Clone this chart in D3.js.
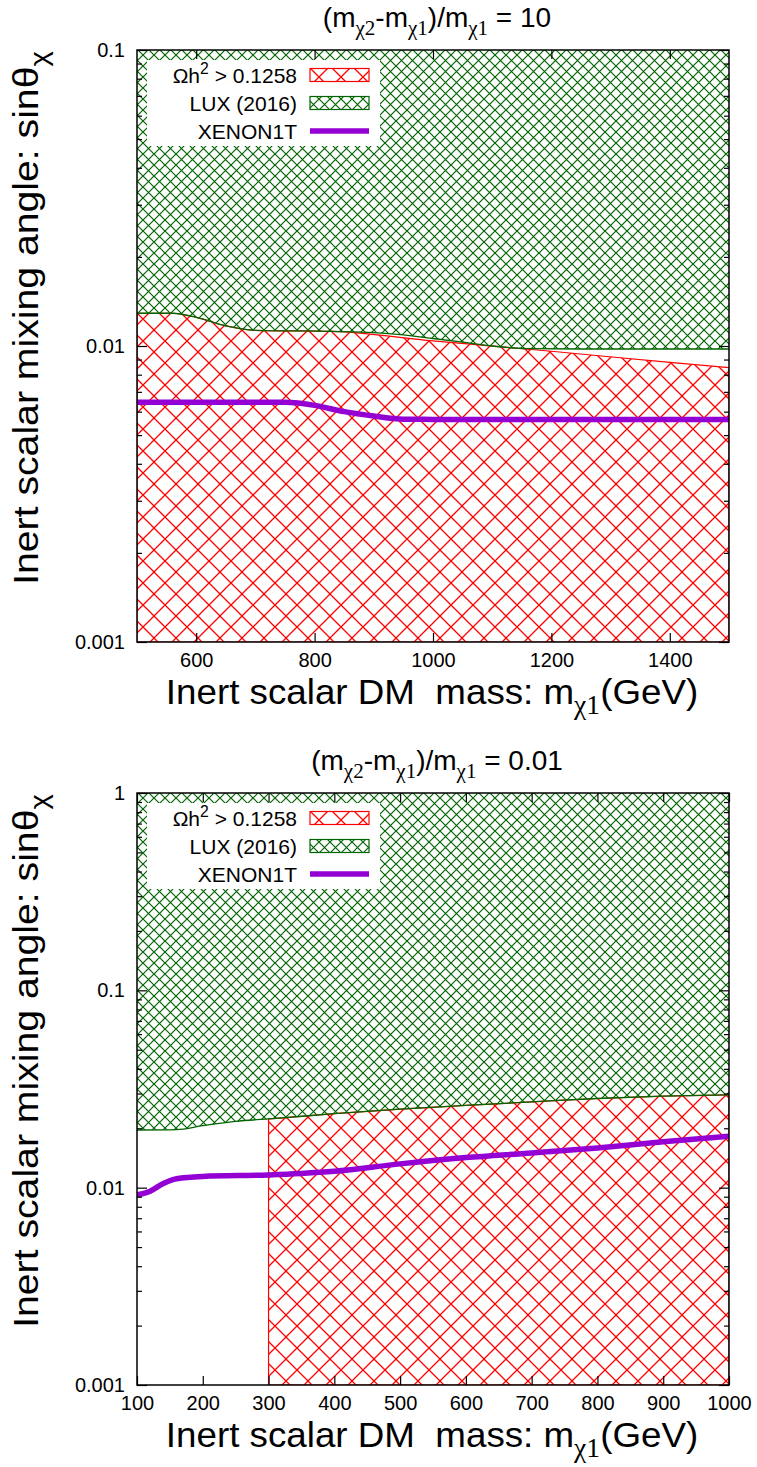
<!DOCTYPE html>
<html>
<head>
<meta charset="utf-8">
<script src="https://cdn.jsdelivr.net/npm/d3@7"></script>
<style>
  body { margin: 0; background: #fff; }
  text { font-family: "Liberation Sans", Arial, sans-serif; fill: #000; }
</style>
</head>
<body>
<div class="chart"></div>
<script>
// ---- data ----
// top panel: (m_chi2 - m_chi1)/m_chi1 = 10
const topXTicks = [600, 800, 1000, 1200, 1400];
const topYTicks = [0.1, 0.01, 0.001];
const topLuxMass = [500, 560, 600, 650, 700, 830, 900, 950, 1000, 1050, 1100, 1160, 1250, 1500];
const topLuxVal = [0.0129, 0.0129, 0.0125, 0.0117, 0.0113, 0.0112, 0.0111, 0.0109, 0.0106, 0.0103, 0.0100, 0.0098, 0.00977, 0.00977];
const topRelicMass = [500, 560, 600, 650, 700, 830, 1000, 1200, 1400, 1500];
const topRelicVal = [0.0129, 0.0129, 0.0125, 0.0117, 0.0113, 0.0112, 0.0104, 0.0096, 0.0088, 0.00845];
const topXenonMass = [500, 600, 700, 750, 800, 850, 900, 950, 1000, 1100, 1200, 1300, 1400, 1500];
const topXenonVal = [0.00646, 0.00646, 0.00646, 0.00645, 0.0063, 0.0060, 0.0058, 0.00566, 0.00565, 0.00565, 0.00565, 0.00565, 0.00565, 0.00565];

// bottom panel: (m_chi2 - m_chi1)/m_chi1 = 0.01
const botXTicks = [100, 200, 300, 400, 500, 600, 700, 800, 900, 1000];
const botYTicks = [1, 0.1, 0.01, 0.001];
const botLuxMass = [100, 160, 200, 250, 300, 400, 500, 600, 700, 800, 900, 1000];
const botLuxVal = [0.0196, 0.0197, 0.0206, 0.0217, 0.0223, 0.0237, 0.0250, 0.0261, 0.0272, 0.0283, 0.0291, 0.0295];
const botRelicMass = [300, 400, 500, 600, 700, 800, 900, 1000];
const botRelicVal = [0.0223, 0.0237, 0.0250, 0.0261, 0.0272, 0.0283, 0.0291, 0.0295];
const botXenonMass = [100, 120, 140, 160, 200, 300, 350, 400, 500, 600, 700, 800, 900, 1000];
const botXenonVal = [0.0092, 0.0096, 0.0105, 0.0111, 0.0114, 0.0116, 0.0118, 0.0121, 0.0132, 0.0142, 0.0150, 0.0159, 0.0171, 0.0182];

const legendLabels = ["relic", "lux", "xenon"];

// ---- layout ----
const width = 757, height = 1467;
const plot = {left: 137, right: 729, top: 50, bottom: 642};
const tickFont = 20, titleFont = 28, axisFont = 35, legendFont = 21;

const svg = d3.select(".chart").append("svg")
    .attr("width", width)
    .attr("height", height);

const defs = svg.append("defs");

// crossed hatch fill like gnuplot's fillstyle pattern
function hatch(id, size, color, sw) {
    const p = defs.append("pattern")
        .attr("id", id)
        .attr("patternUnits", "userSpaceOnUse")
        .attr("width", size)
        .attr("height", size);
    p.append("path")
        .attr("d", `M0,0L${size},${size}M${size},0L0,${size}`)
        .attr("stroke", color)
        .attr("stroke-width", sw)
        .attr("fill", "none");
}
hatch("hatchRed", 22, "#ff0000", 1.3);
hatch("hatchGreen", 11, "#006400", 1.2);

// text with sub/superscripts: parts = [[string, kind]], kind: "", "sub", "subs" (serif sub), "sup"
function richText(sel, parts, size) {
    let shift = 0;
    parts.forEach(([str, kind]) => {
        const target = kind === "sup" ? -size * 0.4 : (kind ? size * 0.28 : 0);
        const ts = sel.append("tspan").text(str).attr("dy", target - shift);
        shift = target;
        if (kind) ts.attr("font-size", size * 0.75);
        if (kind === "subs") ts.style("font-family", "'Liberation Serif', 'Times New Roman', serif");
    });
}

function drawPanel(shift, cfg) {
    const g = svg.append("g").attr("transform", `translate(0,${shift})`);

    const x = d3.scaleLinear().domain(cfg.xDomain).range([plot.left, plot.right]);
    const y = d3.scaleLog().domain(cfg.yDomain).range([plot.bottom, plot.top]);

    const clipId = "clip" + shift;
    g.append("clipPath").attr("id", clipId)
        .append("rect")
        .attr("x", plot.left).attr("y", plot.top)
        .attr("width", plot.right - plot.left)
        .attr("height", plot.bottom - plot.top);

    const body = g.append("g").attr("clip-path", `url(#${clipId})`);

    // relic density excluded region (below the curve)
    const relic = d3.zip(cfg.relicMass, cfg.relicVal);
    body.append("path")
        .datum(relic)
        .attr("d", d3.area()
            .x(d => x(d[0]))
            .y0(plot.bottom)
            .y1(d => y(d[1]))
            .curve(d3.curveMonotoneX))
        .attr("fill", "url(#hatchRed)")
        .attr("stroke", "#ff0000")
        .attr("stroke-width", 1.2);

    // LUX excluded region (above the curve)
    const lux = d3.zip(cfg.luxMass, cfg.luxVal);
    body.append("path")
        .datum(lux)
        .attr("d", d3.area()
            .x(d => x(d[0]))
            .y0(plot.top)
            .y1(d => y(d[1]))
            .curve(d3.curveMonotoneX))
        .attr("fill", "url(#hatchGreen)");
    body.append("path")
        .datum(lux)
        .attr("d", d3.line()
            .x(d => x(d[0]))
            .y(d => y(d[1]))
            .curve(d3.curveMonotoneX))
        .attr("fill", "none")
        .attr("stroke", "#006400")
        .attr("stroke-width", 1.3);

    // XENON1T line
    const xenon = d3.zip(cfg.xenonMass, cfg.xenonVal);
    body.append("path")
        .datum(xenon)
        .attr("d", d3.line()
            .x(d => x(d[0]))
            .y(d => y(d[1]))
            .curve(d3.curveMonotoneX))
        .attr("fill", "none")
        .attr("stroke", "#9400d3")
        .attr("stroke-width", 5.5);

    // legend
    const lg = g.append("g");
    lg.append("rect")
        .attr("x", 147).attr("y", plot.top + 10)
        .attr("width", 233).attr("height", 86)
        .attr("fill", "#fff");
    const rowY = d3.scalePoint().domain(legendLabels).range([plot.top + 25, plot.top + 81]);
    const texts = {
        relic: [["\u03a9h", ""], ["2", "sup"], [" > 0.1258", ""]],
        lux: [["LUX (2016)", ""]],
        xenon: [["XENON1T", ""]]
    };
    legendLabels.forEach(k => {
        const cy = rowY(k);
        const t = lg.append("text")
            .attr("x", 297).attr("y", cy + 7.5)
            .attr("text-anchor", "end")
            .attr("font-size", legendFont);
        richText(t, texts[k], legendFont);
        if (k === "xenon") {
            lg.append("line")
                .attr("x1", 310).attr("x2", 369)
                .attr("y1", cy).attr("y2", cy)
                .attr("stroke", "#9400d3").attr("stroke-width", 5.5);
        } else {
            lg.append("rect")
                .attr("x", 310).attr("y", cy - 6.5)
                .attr("width", 59).attr("height", 13)
                .attr("fill", k === "relic" ? "url(#hatchRed)" : "url(#hatchGreen)")
                .attr("stroke", k === "relic" ? "#ff0000" : "#006400")
                .attr("stroke-width", 1.2);
        }
    });

    // axes, ticks pointing inward on all four sides
    const minor = y.ticks().filter(v => !cfg.yTicks.includes(v));

    const axes = [
        g.append("g").attr("transform", `translate(0,${plot.bottom})`)
            .call(d3.axisBottom(x).tickValues(cfg.xTicks).tickSizeInner(-9).tickSizeOuter(0)
                .tickPadding(11).tickFormat(d3.format("d"))),
        g.append("g").attr("transform", `translate(0,${plot.top})`)
            .call(d3.axisTop(x).tickValues(cfg.xTicks).tickSizeInner(-9).tickSizeOuter(0).tickFormat("")),
        g.append("g").attr("transform", `translate(${plot.left},0)`)
            .call(d3.axisLeft(y).tickValues(cfg.yTicks).tickSizeInner(-10).tickSizeOuter(0)
                .tickPadding(12).tickFormat(d => String(d))),
        g.append("g").attr("transform", `translate(${plot.left},0)`)
            .call(d3.axisLeft(y).tickValues(minor).tickSizeInner(-5).tickSizeOuter(0).tickFormat("")),
        g.append("g").attr("transform", `translate(${plot.right},0)`)
            .call(d3.axisRight(y).tickValues(cfg.yTicks).tickSizeInner(-10).tickSizeOuter(0).tickFormat("")),
        g.append("g").attr("transform", `translate(${plot.right},0)`)
            .call(d3.axisRight(y).tickValues(minor).tickSizeInner(-5).tickSizeOuter(0).tickFormat(""))
    ];
    axes.forEach(a => {
        a.select(".domain").remove();
        a.attr("font-size", tickFont).attr("font-family", null);
        a.selectAll("line").attr("stroke", "#000").attr("stroke-width", 1.2);
    });

    // frame
    g.append("rect")
        .attr("x", plot.left).attr("y", plot.top)
        .attr("width", plot.right - plot.left)
        .attr("height", plot.bottom - plot.top)
        .attr("fill", "none")
        .attr("stroke", "#000")
        .attr("stroke-width", 1.5);

    // title
    const title = g.append("text")
        .attr("x", 437).attr("y", 27)
        .attr("text-anchor", "middle")
        .attr("font-size", titleFont);
    richText(title, [["(m", ""], ["\u03c72", "subs"], ["-m", ""], ["\u03c71", "subs"],
        [")/m", ""], ["\u03c71", "subs"], [" = " + cfg.ratio, ""]], titleFont);

    // x axis title, slightly widened like the reference font
    const xt = g.append("text")
        .attr("transform", "translate(432,704) scale(1.05,1)")
        .attr("text-anchor", "middle")
        .attr("font-size", axisFont)
        .style("white-space", "pre");
    richText(xt, [["Inert scalar DM  mass: m", ""], ["\u03c71", "subs"], ["(GeV)", ""]], axisFont);

    // y axis title
    const yt = g.append("text")
        .attr("transform", `translate(38,318) rotate(-90) scale(1.12,1)`)
        .attr("text-anchor", "middle")
        .attr("font-size", axisFont);
    richText(yt, [["Inert scalar mixing angle: sin\u03b8", ""], ["\u03c7", "sub"]], axisFont);
}

drawPanel(0, {
    ratio: "10",
    xDomain: [500, 1500], yDomain: [0.001, 0.1],
    xTicks: topXTicks, yTicks: topYTicks,
    luxMass: topLuxMass, luxVal: topLuxVal,
    relicMass: topRelicMass, relicVal: topRelicVal,
    xenonMass: topXenonMass, xenonVal: topXenonVal
});

drawPanel(743, {
    ratio: "0.01",
    xDomain: [100, 1000], yDomain: [0.001, 1],
    xTicks: botXTicks, yTicks: botYTicks,
    luxMass: botLuxMass, luxVal: botLuxVal,
    relicMass: botRelicMass, relicVal: botRelicVal,
    xenonMass: botXenonMass, xenonVal: botXenonVal
});
</script>
</body>
</html>
